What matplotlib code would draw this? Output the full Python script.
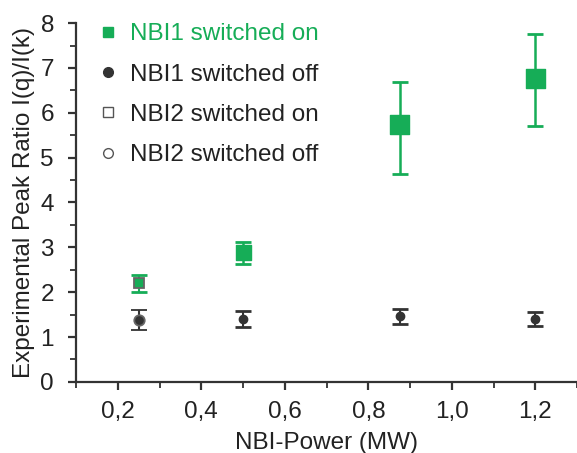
import matplotlib.pyplot as plt
from matplotlib.lines import Line2D
from matplotlib.ticker import MultipleLocator, FuncFormatter

# NBI1 switched on / off
power1 = [0.5, 0.875, 1.2]
ratio1_on = [2.88, 5.73, 6.76]
err1_on_lo = [0.25, 1.10, 1.06]
err1_on_hi = [0.24, 0.95, 1.00]
ratio1_off = [1.40, 1.47, 1.40]
err1_off_lo = [0.17, 0.18, 0.15]
err1_off_hi = [0.18, 0.16, 0.16]

# NBI2 switched on / off
power2 = [0.25]
ratio2_on = [2.20]
err2_on = [0.19]
ratio2_off = [1.38]
err2_off = [0.22]

green = '#16ad57'
dark = '#333333'

plt.rcParams['font.family'] = ['Liberation Sans', 'DejaVu Sans']
fig = plt.figure(figsize=(5.77, 4.53), dpi=100)
ax = fig.add_axes([0.132, 0.157, 0.868, 0.792])

# off series
ax.errorbar(power1, ratio1_off, yerr=[err1_off_lo, err1_off_hi], fmt='o', color=dark,
            ms=6, capsize=6, capthick=2, elinewidth=1.5)
ax.errorbar(power2, ratio2_off, yerr=err2_off, fmt='o', mfc=dark, mec='#666666',
            mew=1.3, ms=7.5, color=dark, capsize=6, capthick=2, elinewidth=1.5)

# on series
ax.errorbar(power2, ratio2_on, yerr=err2_on, fmt='none', ecolor=green,
            capsize=6, capthick=2, elinewidth=1.5)
ax.plot(power2, ratio2_on, 's', mfc=green, mec='#666666', mew=1.3, ms=7)
ax.errorbar(power1, ratio1_on, yerr=[err1_on_lo, err1_on_hi], fmt='none', ecolor=green,
            capsize=6, capthick=2, elinewidth=1.8)
ax.scatter(power1, ratio1_on, marker='s', s=[115, 185, 185], color=green, zorder=3)

ax.set_xlim(0.1, 1.3)
ax.set_ylim(0, 8)
ax.xaxis.set_major_locator(MultipleLocator(0.2))
ax.xaxis.set_minor_locator(MultipleLocator(0.1))
ax.yaxis.set_major_locator(MultipleLocator(1))
ax.yaxis.set_minor_locator(MultipleLocator(0.5))
ax.xaxis.set_major_formatter(FuncFormatter(lambda v, p: f'{v:.1f}'.replace('.', ',')))

for s in ['top', 'right']:
    ax.spines[s].set_visible(False)
for s in ['left', 'bottom']:
    ax.spines[s].set_linewidth(1.6)
    ax.spines[s].set_color(dark)
ax.tick_params(which='major', direction='out', length=6, width=1.6, color=dark,
               labelsize=17.5, labelcolor='#222222')
ax.tick_params(which='minor', direction='out', length=4, width=1.3, color=dark)
ax.tick_params(axis='y', pad=10)
ax.tick_params(axis='x', pad=8)

ax.set_xlabel('NBI-Power (MW)', fontsize=17.5, color='#222222', labelpad=6)
ax.set_ylabel('Experimental Peak Ratio I(q)/I(k)', fontsize=17.5, color='#222222')

handles = [
    Line2D([], [], ls='none', marker='s', ms=7, color=green),
    Line2D([], [], ls='none', marker='o', ms=7, color=dark),
    Line2D([], [], ls='none', marker='s', ms=7, mfc='white', mec='#555555', mew=1),
    Line2D([], [], ls='none', marker='o', ms=7, mfc='white', mec='#555555', mew=1),
]
labels = ['NBI1 switched on', 'NBI1 switched off', 'NBI2 switched on', 'NBI2 switched off']
leg = ax.legend(handles, labels, loc='upper left', bbox_to_anchor=(0.0, 1.06),
                frameon=False, fontsize=17.5, handlelength=0.8, handletextpad=0.5,
                labelspacing=0.75, labelcolor=[green, '#222222', '#222222', '#222222'])

fig.savefig('out.png', dpi=100)
